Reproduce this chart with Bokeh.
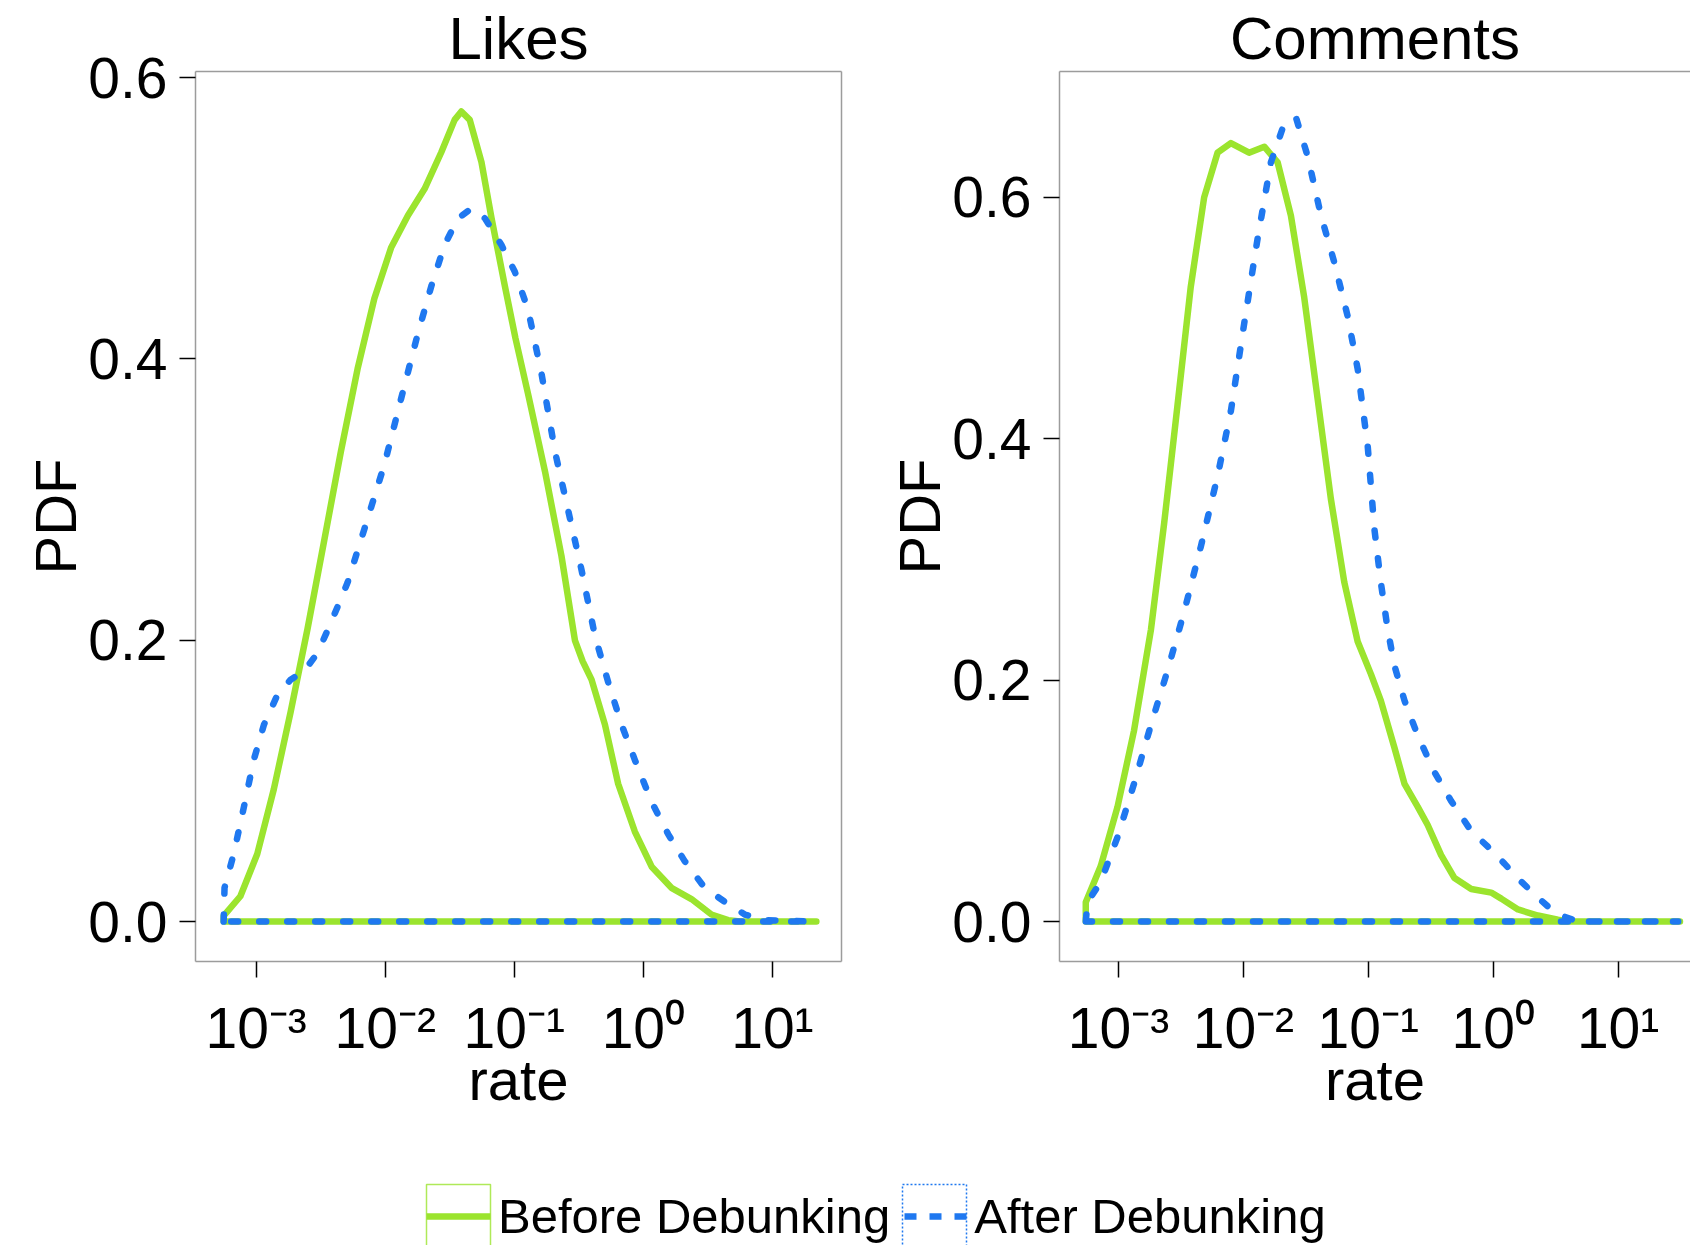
from bokeh.plotting import figure
from bokeh.layouts import column, row
from bokeh.models import (FixedTicker, PrintfTickFormatter, LinearAxis, Range1d,
                          Legend, LegendItem)
from bokeh.embed import file_html
from bokeh.resources import INLINE

# ---------------- data ----------------
panel_titles = ["Likes", "Comments"]
series_labels = ["Before Debunking", "After Debunking"]

x_tick_values = [1e-3, 1e-2, 1e-1, 1e0, 1e1]
x_tick_labels = ["10\u207b\u00b3", "10\u207b\u00b2", "10\u207b\u00b9", "10\u2070", "10\u00b9"]
y_tick_values = [0.0, 0.2, 0.4, 0.6]

likes_before_rate = [5.60e-4, 5.60e-4, 7.55e-4, 1.02e-3, 1.37e-3, 1.85e-3, 2.50e-3, 3.37e-3,
                     4.53e-3, 6.11e-3, 8.24e-3, 1.11e-2, 1.50e-2, 2.02e-2, 2.72e-2, 3.45e-2,
                     3.89e-2, 4.52e-2, 5.57e-2, 6.67e-2, 8.45e-2, 0.102, 0.128, 0.173, 0.232,
                     0.295, 0.339, 0.397, 0.504, 0.638, 0.859, 1.16, 1.65, 2.36, 3.37, 4.54,
                     5.62, 21.9]
likes_before_pdf = [0.0, 0.004, 0.018, 0.048, 0.094, 0.149, 0.208, 0.271, 0.334, 0.393,
                    0.443, 0.479, 0.502, 0.521, 0.547, 0.570, 0.576, 0.570, 0.540, 0.500,
                    0.452, 0.415, 0.375, 0.320, 0.260, 0.200, 0.185, 0.172, 0.140, 0.098,
                    0.064, 0.039, 0.024, 0.016, 0.005, 0.001, 0.0, 0.0]

likes_after_rate = [5.60e-4, 5.69e-4, 6.70e-4, 8.02e-4, 9.59e-4, 1.15e-3, 1.46e-3, 1.85e-3,
                    2.35e-3, 2.99e-3, 3.78e-3, 5.11e-3, 6.89e-3, 9.86e-3, 1.33e-2, 1.79e-2,
                    2.28e-2, 2.88e-2, 3.66e-2, 4.66e-2, 5.92e-2, 7.96e-2, 0.101, 0.128, 0.163,
                    0.207, 0.262, 0.332, 0.422, 0.535, 0.678, 0.859, 1.16, 1.56, 2.09, 2.99,
                    4.28, 6.11, 8.73, 20.0]
likes_after_pdf = [0.0, 0.024, 0.048, 0.081, 0.115, 0.140, 0.161, 0.172, 0.178, 0.191,
                   0.212, 0.241, 0.279, 0.325, 0.372, 0.418, 0.452, 0.481, 0.500, 0.507,
                   0.500, 0.481, 0.462, 0.435, 0.389, 0.334, 0.292, 0.250, 0.203, 0.170,
                   0.140, 0.115, 0.085, 0.062, 0.043, 0.024, 0.014, 0.005, 0.001, 0.0]

comments_before_rate = [5.47e-4, 5.47e-4, 7.21e-4, 9.82e-4, 1.33e-3, 1.82e-3, 2.32e-3, 2.97e-3,
                        3.79e-3, 4.85e-3, 6.21e-3, 7.94e-3, 1.11e-2, 1.47e-2, 1.88e-2, 2.40e-2,
                        3.07e-2, 3.93e-2, 5.02e-2, 6.43e-2, 8.22e-2, 0.105, 0.126, 0.162, 0.195,
                        0.249, 0.299, 0.383, 0.490, 0.667, 0.964, 1.16, 1.58, 2.28, 3.30, 3.97, 31.3]
comments_before_pdf = [0.0, 0.016, 0.046, 0.095, 0.158, 0.242, 0.330, 0.428, 0.526, 0.600,
                       0.637, 0.645, 0.637, 0.642, 0.629, 0.585, 0.517, 0.433, 0.350, 0.281,
                       0.232, 0.205, 0.183, 0.144, 0.114, 0.095, 0.080, 0.055, 0.036, 0.027,
                       0.024, 0.019, 0.010, 0.005, 0.0015, 0.0, 0.0]

comments_after_rate = [5.47e-4, 5.65e-4, 7.21e-4, 9.82e-4, 1.33e-3, 1.82e-3, 2.47e-3, 3.36e-3,
                       4.57e-3, 6.21e-3, 7.94e-3, 1.02e-2, 1.30e-2, 1.66e-2, 2.12e-2, 2.64e-2,
                       3.27e-2, 4.18e-2, 5.35e-2, 6.82e-2, 8.22e-2, 9.89e-2, 0.112, 0.126, 0.143,
                       0.162, 0.195, 0.249, 0.338, 0.460, 0.667, 0.906, 1.23, 1.68, 2.28, 2.92,
                       3.73, 4.78, 30.3]
comments_after_pdf = [0.0, 0.016, 0.033, 0.070, 0.114, 0.163, 0.208, 0.257, 0.311, 0.369,
                      0.423, 0.497, 0.566, 0.629, 0.661, 0.666, 0.634, 0.585, 0.546, 0.502,
                      0.458, 0.394, 0.325, 0.281, 0.242, 0.212, 0.183, 0.154, 0.124, 0.100,
                      0.075, 0.062, 0.048, 0.033, 0.020, 0.010, 0.004, 0.0, 0.0]

# ---------------- style ----------------
GREEN = "#9BE42E"
BLUE = "#1F78F0"
BORDER = "#9C9C9C"
FONT = "Liberation Sans"
TICK_FS = "57px"
LABEL_FS = "58px"
TITLE_FS = "60px"
LW = 6.5
DASH = "7 21"


def empty_axis(axis):
    axis.ticker = FixedTicker(ticks=[])
    axis.axis_line_color = BORDER
    axis.axis_line_width = 1.5
    axis.major_tick_line_color = None
    axis.minor_tick_line_color = None
    axis.major_tick_out = 0
    axis.major_tick_in = 0
    axis.minor_tick_out = 0
    axis.minor_tick_in = 0
    axis.major_label_text_font_size = "0px"
    axis.major_label_standoff = 0
    axis.axis_label_standoff = 0
    return axis


def make_panel(title, x_rng, y_rng, frame_w, frame_h, b_left, b_right, b_top, b_bottom,
               before_x, before_y, after_x, after_y, right_border):
    p = figure(title=title, x_axis_type="log",
               x_range=Range1d(*x_rng), y_range=Range1d(*y_rng),
               frame_width=frame_w, frame_height=frame_h,
               min_border_left=b_left, min_border_right=b_right,
               min_border_top=b_top, min_border_bottom=b_bottom,
               x_axis_label="rate", y_axis_label="PDF",
               toolbar_location=None, output_backend="svg")
    p.outline_line_color = None
    p.grid.visible = False
    p.background_fill_color = "white"
    p.border_fill_color = "white"

    p.title.text_font = FONT
    p.title.text_font_size = TITLE_FS
    p.title.text_font_style = "normal"
    p.title.text_color = "black"
    p.title.align = "center"
    p.title.standoff = 0

    xa = p.xaxis[0]
    xa.ticker = FixedTicker(ticks=x_tick_values)
    xa.major_label_overrides = dict(zip(x_tick_values, x_tick_labels))
    ya = p.yaxis[0]
    ya.ticker = FixedTicker(ticks=y_tick_values)
    ya.formatter = PrintfTickFormatter(format="%.1f")

    for ax in (xa, ya):
        ax.axis_line_color = BORDER
        ax.axis_line_width = 1.5
        ax.major_tick_line_color = "black"
        ax.major_tick_line_width = 1.5
        ax.major_tick_out = 16
        ax.major_tick_in = 0
        ax.minor_tick_line_color = None
        ax.major_label_text_font = FONT
        ax.major_label_text_font_size = TICK_FS
        ax.major_label_text_color = "black"
        ax.axis_label_text_font = FONT
        ax.axis_label_text_font_size = LABEL_FS
        ax.axis_label_text_font_style = "normal"
        ax.axis_label_text_color = "black"
    xa.major_label_standoff = 18
    xa.axis_label_standoff = -16
    ya.major_label_standoff = 12
    ya.axis_label_standoff = -3

    p.add_layout(empty_axis(LinearAxis()), "above")
    if right_border:
        p.add_layout(empty_axis(LinearAxis()), "right")

    p.patch(before_x, before_y, fill_color=None, line_color=GREEN, line_width=LW,
            line_join="round")
    p.patch(after_x, after_y, fill_color=None, line_color=BLUE, line_width=LW,
            line_dash=DASH, line_cap="round", line_join="round")
    return p


p1 = make_panel(panel_titles[0], (3.39e-4, 34.3), (-0.0284, 0.6044), 646, 890,
                195, 30, 71, 169, likes_before_rate, likes_before_pdf,
                likes_after_rate, likes_after_pdf, True)
p2 = make_panel(panel_titles[1], (3.37e-4, 38.0), (-0.0331, 0.7043), 631, 890,
                188, 0, 71, 169, comments_before_rate, comments_before_pdf,
                comments_after_rate, comments_after_pdf, False)

# ---------------- legend strip ----------------
pl = figure(width=1690, height=115, x_range=Range1d(0, 1), y_range=Range1d(0, 1),
            toolbar_location=None, output_backend="svg", min_border=0,
            x_axis_location=None, y_axis_location=None)
pl.outline_line_color = None
pl.grid.visible = False
# hidden renderers (same data) that only provide the legend keys
box_g = pl.patch(likes_before_rate, likes_before_pdf, fill_color=None, line_color=GREEN,
                 line_width=1.5, line_alpha=0.8, visible=False)
key_g = pl.line(likes_before_rate, likes_before_pdf, line_color=GREEN, line_width=LW,
                line_dash="0 8 64 300", line_cap="butt", visible=False)
box_b = pl.patch(likes_after_rate, likes_after_pdf, fill_color=None, line_color=BLUE,
                 line_width=1.5, line_dash="2 2", visible=False)
key_b = pl.line(likes_after_rate, likes_after_pdf, line_color=BLUE, line_width=LW,
                line_dash="0 10 12 13 12 13 12 300", line_cap="butt", visible=False)
legend = Legend(items=[LegendItem(label=series_labels[0], renderers=[box_g, key_g]),
                       LegendItem(label=series_labels[1], renderers=[box_b, key_b])],
                location=(418, -11), orientation="horizontal",
                glyph_width=80, glyph_height=80, label_standoff=0, spacing=4,
                padding=0, margin=0, border_line_color=None, background_fill_alpha=0,
                label_text_font=FONT, label_text_font_size="49px",
                label_text_color="black")
pl.add_layout(legend, "center")

layout = column(row(p1, p2), pl)
open("out.html", "w").write(file_html(layout, INLINE))
